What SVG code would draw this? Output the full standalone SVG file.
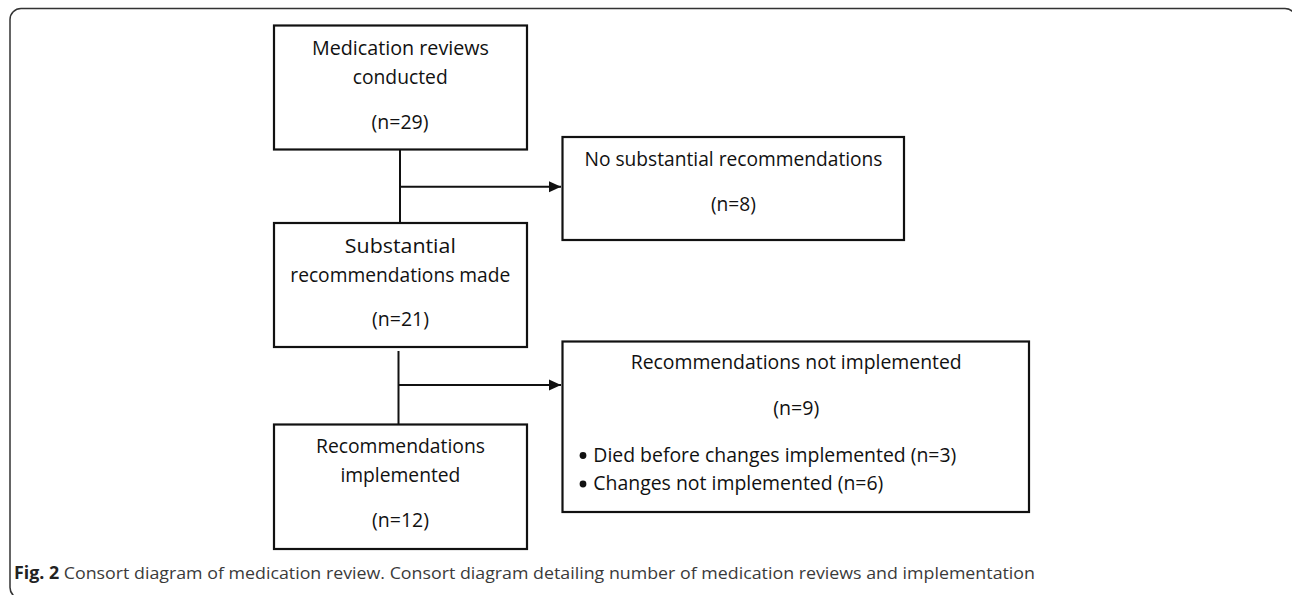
<svg xmlns="http://www.w3.org/2000/svg" width="1292" height="595" viewBox="0 0 1292 595">
<defs>
<marker id="arr" markerWidth="13" markerHeight="12" refX="12" refY="6" orient="auto" markerUnits="userSpaceOnUse">
<path d="M0,0.5 L12,6 L0,11.5 Z" fill="#111"/>
</marker>
<style>
.box{fill:#fff;stroke:#111;stroke-width:2.2}
.t{font-family:"Open Sans","Liberation Sans",sans-serif;font-size:19.5px;fill:#111;text-anchor:middle}
.tl{font-family:"Open Sans","Liberation Sans",sans-serif;font-size:19.5px;fill:#111}
.c{stroke:#111;stroke-width:2;fill:none}
.cap{font-family:"Open Sans","Liberation Sans",sans-serif;font-size:17px;fill:#3a3a3a}
</style>
</defs>
<rect width="1292" height="595" fill="#fff"/>
<rect x="10" y="8.5" width="1286" height="590" rx="11" fill="none" stroke="#333" stroke-width="1.5"/>

<g id="connectors">
<line class="c" x1="400" y1="150" x2="400" y2="223"/>
<line class="c" x1="400" y1="186.7" x2="561" y2="186.7" marker-end="url(#arr)"/>
<line class="c" x1="398.5" y1="351" x2="398.5" y2="424.5"/>
<line class="c" x1="398.5" y1="385" x2="561" y2="385" marker-end="url(#arr)"/>
</g>

<g id="n1">
<rect class="box" x="274" y="25.5" width="253" height="124"/>
<text class="t" x="400.5" y="55" textLength="177" lengthAdjust="spacingAndGlyphs">Medication reviews</text>
<text class="t" x="400.2" y="84" textLength="95" lengthAdjust="spacingAndGlyphs">conducted</text>
<text class="t" x="400" y="129" textLength="57" lengthAdjust="spacingAndGlyphs">(n=29)</text>
</g>

<g id="n2">
<rect class="box" x="562.5" y="137" width="341.5" height="103"/>
<text class="t" x="733.5" y="166" textLength="298" lengthAdjust="spacingAndGlyphs">No substantial recommendations</text>
<text class="t" x="733.4" y="210.5" textLength="45" lengthAdjust="spacingAndGlyphs">(n=8)</text>
</g>

<g id="n3">
<rect class="box" x="274" y="223" width="253" height="124"/>
<text class="t" x="400.3" y="252.7" textLength="111" lengthAdjust="spacingAndGlyphs">Substantial</text>
<text class="t" x="400.3" y="281.7" textLength="220" lengthAdjust="spacingAndGlyphs">recommendations made</text>
<text class="t" x="400.5" y="326" textLength="57" lengthAdjust="spacingAndGlyphs">(n=21)</text>
</g>

<g id="n4">
<rect class="box" x="274" y="424.5" width="253" height="124.5"/>
<text class="t" x="400.5" y="453.3" textLength="169" lengthAdjust="spacingAndGlyphs">Recommendations</text>
<text class="t" x="400.4" y="482.3" textLength="120" lengthAdjust="spacingAndGlyphs">implemented</text>
<text class="t" x="400.5" y="526.7" textLength="57" lengthAdjust="spacingAndGlyphs">(n=12)</text>
</g>

<g id="n5">
<rect class="box" x="562.5" y="341.5" width="466.5" height="170.5"/>
<text class="t" x="796.2" y="369" textLength="331" lengthAdjust="spacingAndGlyphs">Recommendations not implemented</text>
<text class="t" x="796.3" y="415" textLength="46" lengthAdjust="spacingAndGlyphs">(n=9)</text>
<circle cx="583" cy="455.5" r="3.4" fill="#111"/>
<text class="tl" x="593.3" y="461.7" textLength="363" lengthAdjust="spacingAndGlyphs">Died before changes implemented (n=3)</text>
<circle cx="583" cy="484" r="3.4" fill="#111"/>
<text class="tl" x="593.3" y="490" textLength="290" lengthAdjust="spacingAndGlyphs">Changes not implemented (n=6)</text>
</g>

<text class="cap" x="14" y="579" textLength="1021" lengthAdjust="spacingAndGlyphs"><tspan font-weight="bold" fill="#222">Fig. 2</tspan> Consort diagram of medication review. Consort diagram detailing number of medication reviews and implementation</text>
</svg>
